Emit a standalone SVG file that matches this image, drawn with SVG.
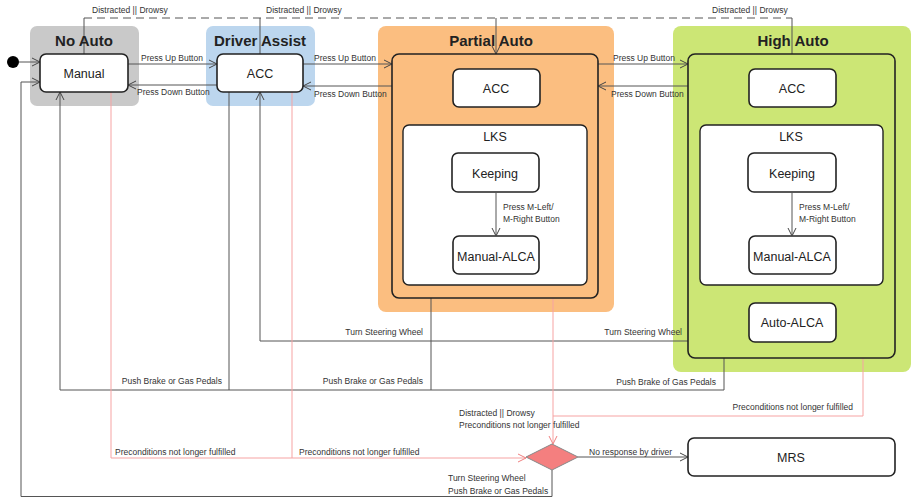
<svg xmlns="http://www.w3.org/2000/svg" width="911" height="498" viewBox="0 0 911 498">
  <style>
    text { font-family: "Liberation Sans", Arial, sans-serif; fill: #222; }
    .title { font-size: 15px; font-weight: bold; text-anchor: middle; }
    .state { fill: #fff; stroke: #222; stroke-width: 1.6; }
    .sname { font-size: 12.5px; text-anchor: middle; }
    .lbl { font-size: 8.5px; fill: #333; }
    .end { text-anchor: end; }
    .edge { fill: none; stroke: #555; stroke-width: 1; }
    .red { fill: none; stroke: #f6a3a3; stroke-width: 1; }
    .dash { fill: none; stroke: #555; stroke-width: 1; stroke-dasharray: 8 5; }
  </style>
  <defs>
    <marker id="arr" markerWidth="10" markerHeight="10" refX="9" refY="5" orient="auto" markerUnits="userSpaceOnUse">
      <path d="M1,1 L9,5 L1,9" fill="none" stroke="#444" stroke-width="1"/>
    </marker>
    <marker id="arrRed" markerWidth="10" markerHeight="10" refX="9" refY="5" orient="auto" markerUnits="userSpaceOnUse">
      <path d="M1,1 L9,5 L1,9" fill="none" stroke="#f08080" stroke-width="1"/>
    </marker>
  </defs>

  <!-- mode regions -->
  <g id="no-auto">
    <rect x="30" y="26" width="109" height="80" rx="7" fill="#c9c9c9"/>
  </g>
  <g id="driver-assist">
    <rect x="206" y="26" width="109" height="80" rx="7" fill="#bcd6ee"/>
  </g>
  <g id="partial-auto">
    <rect x="378" y="26" width="236" height="286" rx="8" fill="#fbbe80"/>
  </g>
  <g id="high-auto">
    <rect x="673" y="26" width="238" height="346" rx="8" fill="#cce675"/>
  </g>

  <!-- connectors -->
  <g id="connectors">
    <!-- distracted / drowsy bus -->
    <path class="dash" d="M84,18 H792"/>
    <path class="edge" d="M84,18 V54 M260,18 V54 M792,18 V54"/>
    <path class="edge" d="M496,18 V54" marker-end="url(#arr)"/>

    <!-- initial -->
    <path class="edge" d="M19,62 H40" marker-end="url(#arr)"/>

    <!-- up / down buttons -->
    <path class="edge" d="M128,64 H217" marker-end="url(#arr)"/>
    <path class="edge" d="M217,85 H128" marker-end="url(#arr)"/>
    <path class="edge" d="M303,64 H392" marker-end="url(#arr)"/>
    <path class="edge" d="M392,86 H303" marker-end="url(#arr)"/>
    <path class="edge" d="M598,64 H688" marker-end="url(#arr)"/>
    <path class="edge" d="M688,86 H598" marker-end="url(#arr)"/>

    <!-- push brake or gas pedals back to Manual -->
    <path class="edge" d="M724,358 V390 H60 V92" marker-end="url(#arr)"/>
    <path class="edge" d="M229,92 V390"/>
    <path class="edge" d="M431,298 V390"/>

    <!-- turn steering wheel back to ACC -->
    <path class="edge" d="M688,341 H260 V92" marker-end="url(#arr)"/>

    <!-- from decision back to Manual -->
    <path class="edge" d="M552,470 V496.5 H21 V82 H40" marker-end="url(#arr)"/>

    <!-- preconditions not longer fulfilled -->
    <path class="red" d="M111,92 V458 H526" marker-end="url(#arrRed)"/>
    <path class="red" d="M292,92 V458"/>
    <path class="red" d="M553,298 V444" marker-end="url(#arrRed)"/>
    <path class="red" d="M863,358 V416 H553"/>

    <!-- decision to MRS -->
    <path class="edge" d="M578,457 H688" marker-end="url(#arr)"/>

    <!-- labels -->
    <text class="lbl" x="92" y="13">Distracted || Drowsy</text>
    <text class="lbl" x="266" y="13">Distracted || Drowsy</text>
    <text class="lbl" x="712" y="13">Distracted || Drowsy</text>

    <text class="lbl" x="141" y="61">Press Up Button</text>
    <text class="lbl" x="137" y="95">Press Down Button</text>
    <text class="lbl" x="314" y="61">Press Up Button</text>
    <text class="lbl" x="314" y="97">Press Down Button</text>
    <text class="lbl" x="613" y="61">Press Up Button</text>
    <text class="lbl" x="611" y="97">Press Down Button</text>

    <text class="lbl end" x="423" y="335">Turn Steering Wheel</text>
    <text class="lbl end" x="682" y="335">Turn Steering Wheel</text>

    <text class="lbl end" x="222" y="384">Push Brake or Gas Pedals</text>
    <text class="lbl end" x="423" y="384">Push Brake or Gas Pedals</text>
    <text class="lbl end" x="716" y="385">Push Brake of Gas Pedals</text>

    <text class="lbl end" x="853" y="410">Preconditions not longer fulfilled</text>
    <text class="lbl" x="459" y="416">Distracted || Drowsy</text>
    <text class="lbl" x="459" y="428">Preconditions not longer fulfilled</text>

    <text class="lbl" x="115" y="455">Preconditions not longer fulfilled</text>
    <text class="lbl" x="299" y="455">Preconditions not longer fulfilled</text>
    <text class="lbl" x="589" y="455">No response by driver</text>

    <text class="lbl" x="448" y="481">Turn Steering Wheel</text>
    <text class="lbl" x="448" y="494">Push Brake or Gas Pedals</text>
  </g>

  <!-- mode titles -->
  <text class="title" x="84" y="46">No Auto</text>
  <text class="title" x="260" y="46">Driver Assist</text>
  <text class="title" x="491" y="46">Partial Auto</text>
  <text class="title" x="793" y="46">High Auto</text>

  <!-- initial pseudostate -->
  <g id="initial">
    <circle cx="13" cy="62" r="6" fill="#000"/>
  </g>

  <g id="manual">
    <rect class="state" x="40" y="54" width="88" height="38" rx="6"/>
    <text class="sname" x="84" y="78">Manual</text>
  </g>
  <g id="acc-da">
    <rect class="state" x="217" y="54" width="86" height="38" rx="6"/>
    <text class="sname" x="260" y="78">ACC</text>
  </g>

  <!-- partial automation composite -->
  <g id="partial-composite">
    <rect x="392" y="54" width="206" height="244" rx="7" fill="none" stroke="#222" stroke-width="1.6"/>
  </g>
  <g id="acc-pa">
    <rect class="state" x="453" y="69" width="87" height="38" rx="6"/>
    <text class="sname" x="496" y="93">ACC</text>
  </g>
  <g id="lks-pa">
    <rect x="403" y="125" width="184" height="160" rx="6" fill="#fff" stroke="#222" stroke-width="1.4"/>
    <text class="sname" x="495" y="141">LKS</text>
  </g>
  <g id="keeping-pa">
    <rect class="state" x="452" y="153" width="87" height="39" rx="6"/>
    <text class="sname" x="495" y="178">Keeping</text>
  </g>
  <g id="manual-alca-pa">
    <rect class="state" x="453" y="236" width="86" height="38" rx="6"/>
    <text class="sname" x="496" y="261">Manual-ALCA</text>
  </g>

  <!-- high automation composite -->
  <g id="high-composite">
    <rect x="688" y="54" width="207" height="304" rx="7" fill="none" stroke="#222" stroke-width="1.6"/>
  </g>
  <g id="acc-ha">
    <rect class="state" x="749" y="69" width="87" height="38" rx="6"/>
    <text class="sname" x="792" y="93">ACC</text>
  </g>
  <g id="lks-ha">
    <rect x="700" y="125" width="183" height="160" rx="6" fill="#fff" stroke="#222" stroke-width="1.4"/>
    <text class="sname" x="791" y="141">LKS</text>
  </g>
  <g id="keeping-ha">
    <rect class="state" x="748" y="153" width="88" height="39" rx="6"/>
    <text class="sname" x="792" y="178">Keeping</text>
  </g>
  <g id="manual-alca-ha">
    <rect class="state" x="749" y="236" width="87" height="38" rx="6"/>
    <text class="sname" x="792" y="261">Manual-ALCA</text>
  </g>
  <g id="auto-alca">
    <rect class="state" x="749" y="303" width="87" height="39" rx="6"/>
    <text class="sname" x="792" y="327">Auto-ALCA</text>
  </g>

  <!-- lane-keeping internal transitions, above the LKS panels -->
  <g id="lks-connectors">
    <path class="edge" d="M496,192 V236" marker-end="url(#arr)"/>
    <text class="lbl" x="503" y="210">Press M-Left/</text>
    <text class="lbl" x="503" y="222">M-Right Button</text>
    <path class="edge" d="M792,192 V236" marker-end="url(#arr)"/>
    <text class="lbl" x="799" y="210">Press M-Left/</text>
    <text class="lbl" x="799" y="222">M-Right Button</text>
  </g>

  <!-- decision and minimal risk state -->
  <g id="decision">
    <polygon points="526,457 552,444 578,457 552,470" fill="#f47f7f" stroke="#888" stroke-width="1"/>
  </g>
  <g id="mrs">
    <rect class="state" x="688" y="438" width="207" height="38" rx="6"/>
    <text class="sname" x="791" y="462">MRS</text>
  </g>
</svg>
